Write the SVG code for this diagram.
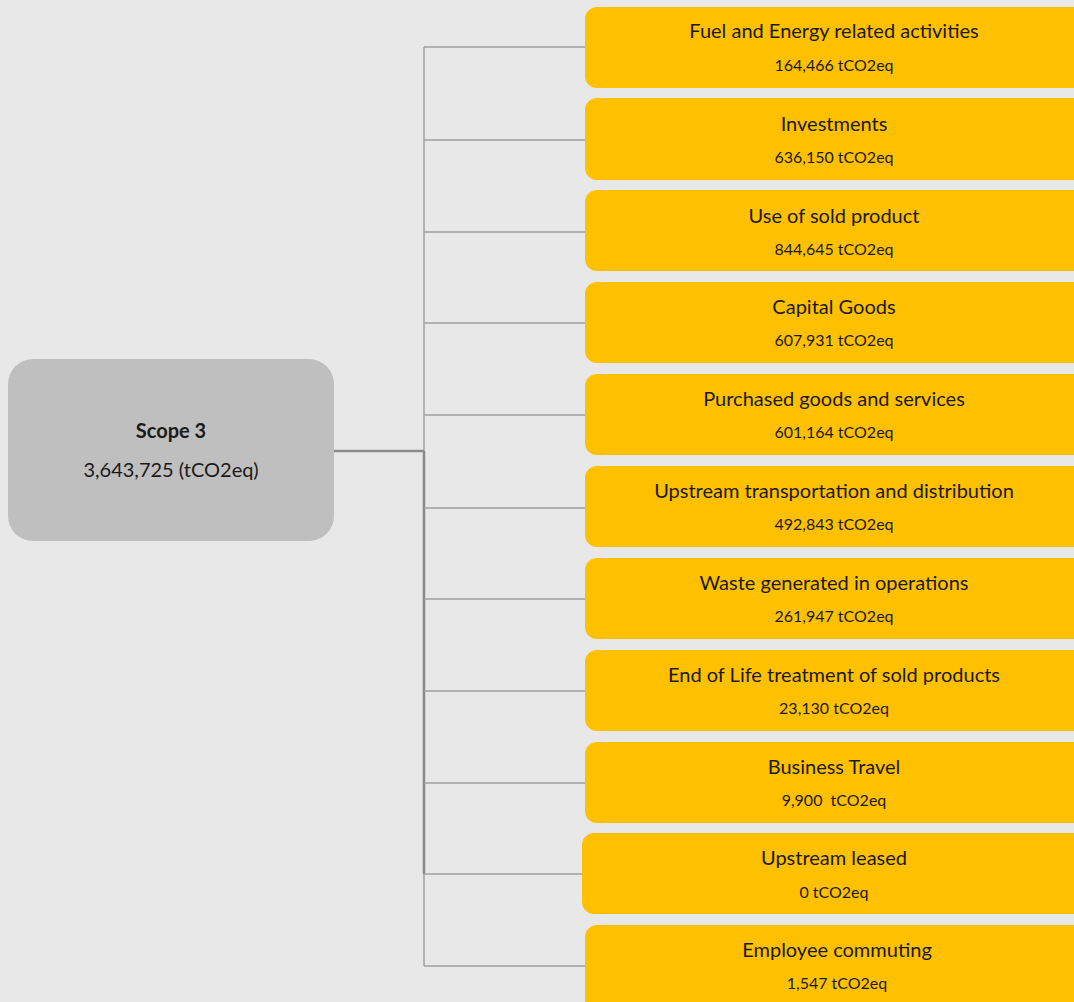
<svg xmlns="http://www.w3.org/2000/svg" width="1074" height="1002" viewBox="0 0 1074 1002">
<style>
.bg{fill:#e8e8e8}
.cat{fill:#ffc000}
.root{fill:#bfbfbf}
.t{font-family:Lato,"Liberation Sans",sans-serif;fill:#1a1a1a;text-anchor:middle}
.h{font-size:20px}
.v{font-size:16px}
.b{font-weight:bold}
.ln{stroke:#a0a0a0;stroke-width:1.5;fill:none}
.lnd{stroke:#8a8a8a;stroke-width:2.5;fill:none}
</style>
<rect class="bg" x="0" y="0" width="1074" height="1002"/>
<g id="connectors">
<path class="ln" d="M424,47 V966"/>
<path class="lnd" d="M424,451 V874"/>
<path class="lnd" d="M334,451 H424"/>
<path class="ln" d="M424,47 H586 M424,140 H586 M424,232 H586 M424,323 H586 M424,415 H586 M424,508 H586 M424,599 H586 M424,691 H586 M424,783 H586 M424,874 H583 M424,966 H586"/>
</g>
<g id="scope3">
<rect class="root" x="8" y="359" width="326" height="182" rx="25"/>
<text class="t h b" x="171" y="438">Scope 3</text>
<text class="t h" x="171" y="477">3,643,725 (tCO2eq)</text>
</g>
<g id="fuel"><rect class="cat" x="585" y="7" width="510" height="81" rx="12"/><text class="t h" x="834" y="38">Fuel and Energy related activities</text><text class="t v" x="834" y="71">164,466 tCO2eq</text></g>
<g id="investments"><rect class="cat" x="585" y="98" width="510" height="82" rx="12"/><text class="t h" x="834" y="131">Investments</text><text class="t v" x="834" y="163">636,150 tCO2eq</text></g>
<g id="use-sold"><rect class="cat" x="585" y="190" width="510" height="81" rx="12"/><text class="t h" x="834" y="223">Use of sold product</text><text class="t v" x="834" y="255">844,645 tCO2eq</text></g>
<g id="capital"><rect class="cat" x="585" y="282" width="510" height="81" rx="12"/><text class="t h" x="834" y="314">Capital Goods</text><text class="t v" x="834" y="346">607,931 tCO2eq</text></g>
<g id="purchased"><rect class="cat" x="585" y="374" width="510" height="81" rx="12"/><text class="t h" x="834" y="406">Purchased goods and services</text><text class="t v" x="834" y="438">601,164 tCO2eq</text></g>
<g id="upstream-transport"><rect class="cat" x="585" y="466" width="510" height="81" rx="12"/><text class="t h" x="834" y="498">Upstream transportation and distribution</text><text class="t v" x="834" y="530">492,843 tCO2eq</text></g>
<g id="waste"><rect class="cat" x="585" y="558" width="510" height="81" rx="12"/><text class="t h" x="834" y="590">Waste generated in operations</text><text class="t v" x="834" y="622">261,947 tCO2eq</text></g>
<g id="end-of-life"><rect class="cat" x="585" y="650" width="510" height="81" rx="12"/><text class="t h" x="834" y="682">End of Life treatment of sold products</text><text class="t v" x="834" y="714">23,130 tCO2eq</text></g>
<g id="travel"><rect class="cat" x="585" y="742" width="510" height="81" rx="12"/><text class="t h" x="834" y="774">Business Travel</text><text class="t v" x="834" y="806" xml:space="preserve">9,900  tCO2eq</text></g>
<g id="leased"><rect class="cat" x="582" y="833" width="510" height="81" rx="12"/><text class="t h" x="834" y="865">Upstream leased</text><text class="t v" x="834" y="898">0 tCO2eq</text></g>
<g id="commuting"><rect class="cat" x="585" y="925" width="510" height="90" rx="12"/><text class="t h" x="837" y="957">Employee commuting</text><text class="t v" x="837" y="989">1,547 tCO2eq</text></g>
</svg>
